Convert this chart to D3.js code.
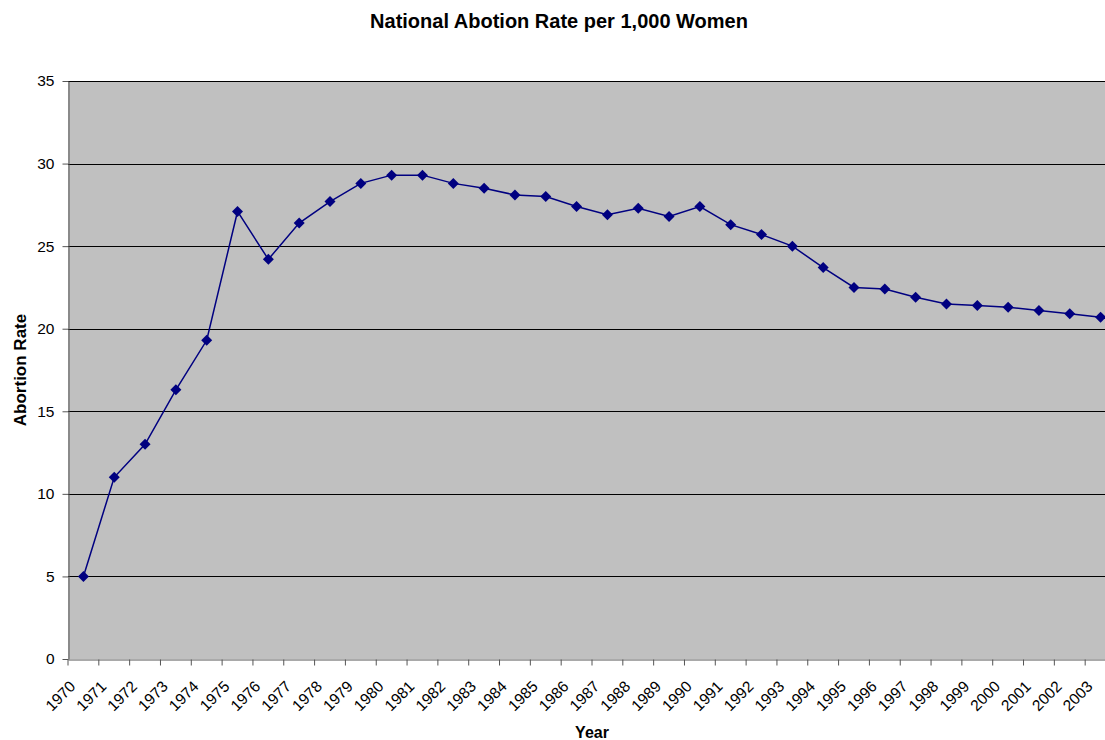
<!DOCTYPE html>
<html><head><meta charset="utf-8">
<script src="https://cdn.jsdelivr.net/npm/d3@7"></script>
<style>body{margin:0;background:#fff}svg{font-family:"Liberation Sans",Arial,sans-serif}</style>
</head><body><svg id="c" width="1105" height="740"></svg>
<script>
const years = ["1970","1971","1972","1973","1974","1975","1976","1977","1978","1979","1980","1981","1982","1983","1984","1985","1986","1987","1988","1989","1990","1991","1992","1993","1994","1995","1996","1997","1998","1999","2000","2001","2002","2003"];
const rates = [5.0,11.0,13.0,16.3,19.3,27.1,24.2,26.4,27.7,28.8,29.3,29.3,28.8,28.5,28.1,28.0,27.4,26.9,27.3,26.8,27.4,26.3,25.7,25.0,23.7,22.5,22.4,21.9,21.5,21.4,21.3,21.1,20.9,20.7];
const yTicks = [0,5,10,15,20,25,30,35];

const svg = d3.select("#c");
const L=68, R=1116, T=81, B=659, W=1105;
const x = d3.scaleBand().domain(years).range([L,R]).padding(0);
const y = d3.scaleLinear().domain([0,35]).range([B,T]);

svg.append("rect").attr("x",L).attr("y",T).attr("width",W-L).attr("height",B-T).attr("fill","#c0c0c0");
svg.append("g").selectAll("line").data(yTicks.filter(d=>d>0)).join("line")
  .attr("x1",L).attr("x2",W).attr("y1",d=>Math.round(y(d))+0.5).attr("y2",d=>Math.round(y(d))+0.5)
  .attr("stroke","#000").attr("stroke-width",1);

const ya = svg.append("g").attr("transform",`translate(${L+0.5},0)`)
  .call(d3.axisLeft(y).tickValues(yTicks).tickSize(6).tickPadding(8).tickSizeOuter(0));
ya.select(".domain").attr("stroke","#555");
ya.selectAll("line").attr("stroke","#555");
ya.selectAll("text").attr("font-size",15.5).attr("fill","#000").attr("font-family","Liberation Sans, Arial, sans-serif");

const xa = svg.append("g").attr("transform",`translate(0,${B+0.5})`)
  .call(d3.axisBottom(x).tickSize(6).tickSizeOuter(0));
xa.select(".domain").attr("stroke","#555");
xa.selectAll(".tick line").attr("stroke","#555").attr("transform",`translate(${-x.bandwidth()/2},0)`);
xa.selectAll(".tick text").attr("font-size",15.5).attr("fill","#000").attr("font-family","Liberation Sans, Arial, sans-serif")
  .attr("text-anchor","end").attr("dy",null).attr("y",null)
  .attr("transform","translate(-7,28) rotate(-45)");

const cx = d => x(d) + x.bandwidth()/2;
const data = years.map((d,i)=>({year:d, v:rates[i]}));
svg.append("path").datum(data)
  .attr("d", d3.line().x(d=>cx(d.year)).y(d=>y(d.v)))
  .attr("fill","none").attr("stroke","#000080").attr("stroke-width",1.5);
svg.append("g").selectAll("path").data(data).join("path")
  .attr("transform",d=>`translate(${cx(d.year)},${y(d.v)})`)
  .attr("d","M0,-5.5L5.5,0L0,5.5L-5.5,0Z").attr("fill","#000080");

svg.append("text").attr("x",559).attr("y",28).attr("text-anchor","middle")
  .attr("font-size",20).attr("font-weight","bold").text("National Abotion Rate per 1,000 Women");
svg.append("text").attr("transform","translate(26,370) rotate(-90)").attr("text-anchor","middle")
  .attr("font-size",17).attr("font-weight","bold").text("Abortion Rate");
svg.append("text").attr("x",592).attr("y",738).attr("text-anchor","middle")
  .attr("font-size",16).attr("font-weight","bold").text("Year");
</script></body></html>
